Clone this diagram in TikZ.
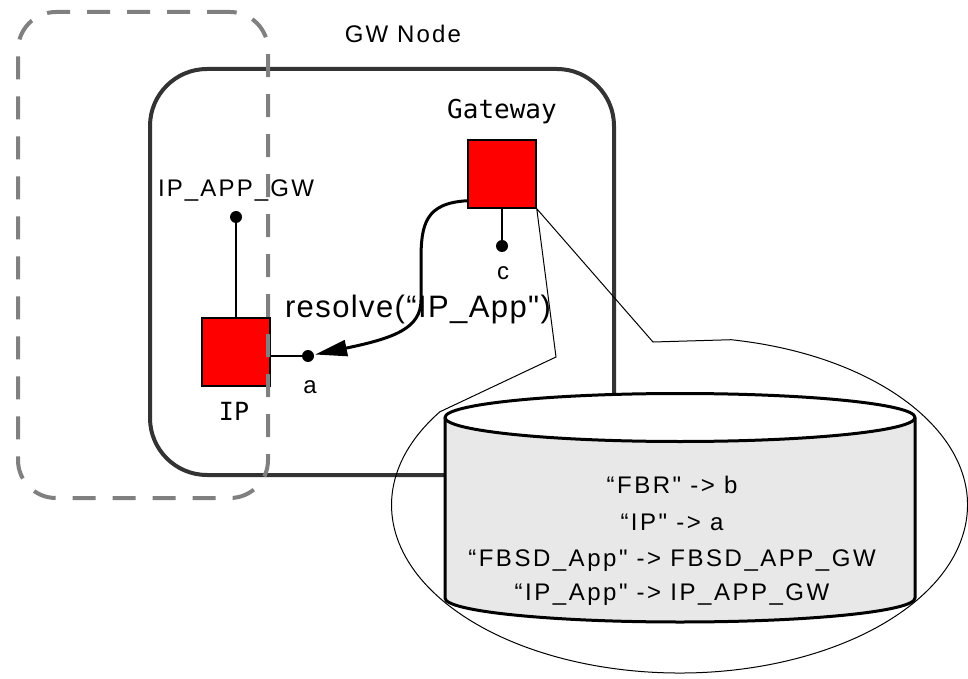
\documentclass[tikz,border=0pt]{standalone}
\usepackage{fontspec}
\setmainfont{Liberation Sans}
\newfontfamily\lblfont[LetterSpace=9]{Liberation Sans}
\newfontfamily\cylfont[LetterSpace=10.5]{Liberation Sans}
\newfontfamily\callfont[LetterSpace=4.5]{Liberation Sans}
\newfontfamily\codefont{DejaVu Sans Mono}
\usetikzlibrary{arrows.meta}
\definecolor{boxgray}{HTML}{333333}
\definecolor{dashgray}{HTML}{808080}
\definecolor{compred}{HTML}{FF0000}
\definecolor{cylgray}{HTML}{E8E8E8}
\begin{document}
\begin{tikzpicture}[x=1pt,y=1pt,
  gwbox/.style={draw=boxgray, line width=4pt, rounded corners=57pt, inner sep=0pt},
  hostbox/.style={draw=dashgray, line width=4pt, dash pattern=on 23pt off 17pt, rounded corners=38pt, inner sep=0pt},
  comp/.style={rectangle, draw=black, line width=1.5pt, fill=compred, minimum size=68pt, inner sep=0pt},
  port/.style={circle, fill=black, minimum size=12pt, inner sep=0pt},
  wire/.style={line width=1.5pt},
  flow/.style={line width=3pt, -{Triangle[length=32pt,width=16pt]}, shorten >=1pt},
  callout/.style={line width=1pt},
  cylline/.style={line width=3pt, line join=round},
  lbl/.style={anchor=base, inner sep=0pt, font=\fontsize{24}{28}\lblfont},
  cyllbl/.style={anchor=base, inner sep=0pt, font=\fontsize{24}{28}\cylfont},
  calllbl/.style={anchor=base, inner sep=0pt, font=\fontsize{31}{36}\callfont},
  codelbl/.style={anchor=base, inner sep=0pt, font=\fontsize{26}{30}\codefont}]
\useasboundingbox (0,0) rectangle (968,678);

% gateway node frame
\node[gwbox, minimum width=464pt, minimum height=406pt] (gwnode) at (382,406) {};
\node[lbl] (gwlabel) at (403,635) {GW Node};

% components
\node[comp] (gw) at (502,504) {};
\node[codelbl] (gwname) at (502,559) {Gateway};
\node[comp] (ipsq) at (236,326) {};
\node[codelbl, font=\fontsize{25}{30}\codefont] (ipname) at (234,258) {IP};

% ports
\node[port] (appdot) at (236,461) {};
\node[lbl] (applbl) at (236,481) {IP\_APP\_GW};
\node[port] (adot) at (308,322) {};
\node[lbl] (alabel) at (310,285) {a};
\node[port] (cdot) at (502,432) {};
\node[lbl] (clabel) at (503,398) {c};

\draw[wire] (ipsq.north) -- (appdot);
\draw[wire] (ipsq.east |- adot) -- (adot);
\draw[wire] (gw.south) -- (cdot);

% name resolution request
\draw[flow] ([yshift=8pt]gw.south west)
  .. controls (425,475) and (421,453) .. (421,418)
  -- (421,378)
  .. controls (421,350) and (395,340) .. (adot);
\node[calllbl] (resolve) at (418,360) {resolve(“IP\_App")};

% callout showing the gateway's name table
\coordinate (ellc) at (679.5,173);
\draw[callout] (ellc) ++(79.7:288pt and 168pt)
  arc[start angle=79.7, end angle=-213.7, x radius=288pt, y radius=168pt]
  -- (556,321) -- (gw.south east) -- (653,336) -- cycle;

% name table store
\fill[cylgray] (445,260.5) -- (445,80)
  arc[start angle=180, end angle=360, x radius=235pt, y radius=24pt]
  -- (915,260.5) -- cycle;
\fill[white] (680,260.5) ellipse[x radius=235pt, y radius=24pt];
\draw[cylline] (445,260.5) -- (445,80)
  arc[start angle=180, end angle=360, x radius=235pt, y radius=24pt]
  -- (915,260.5);
\draw[cylline] (680,260.5) ellipse[x radius=235pt, y radius=24pt];
\node[cyllbl] (row1) at (672,185) {“FBR" -> b};
\node[cyllbl] (row2) at (672,148) {“IP" -> a};
\node[cyllbl] (row3) at (672,112) {“FBSD\_App" -> FBSD\_APP\_GW};
\node[cyllbl] (row4) at (672,78) {“IP\_App" -> IP\_APP\_GW};

% host boundary
\node[hostbox, minimum width=250pt, minimum height=486pt] (host) at (143,423) {};
\end{tikzpicture}
\end{document}
